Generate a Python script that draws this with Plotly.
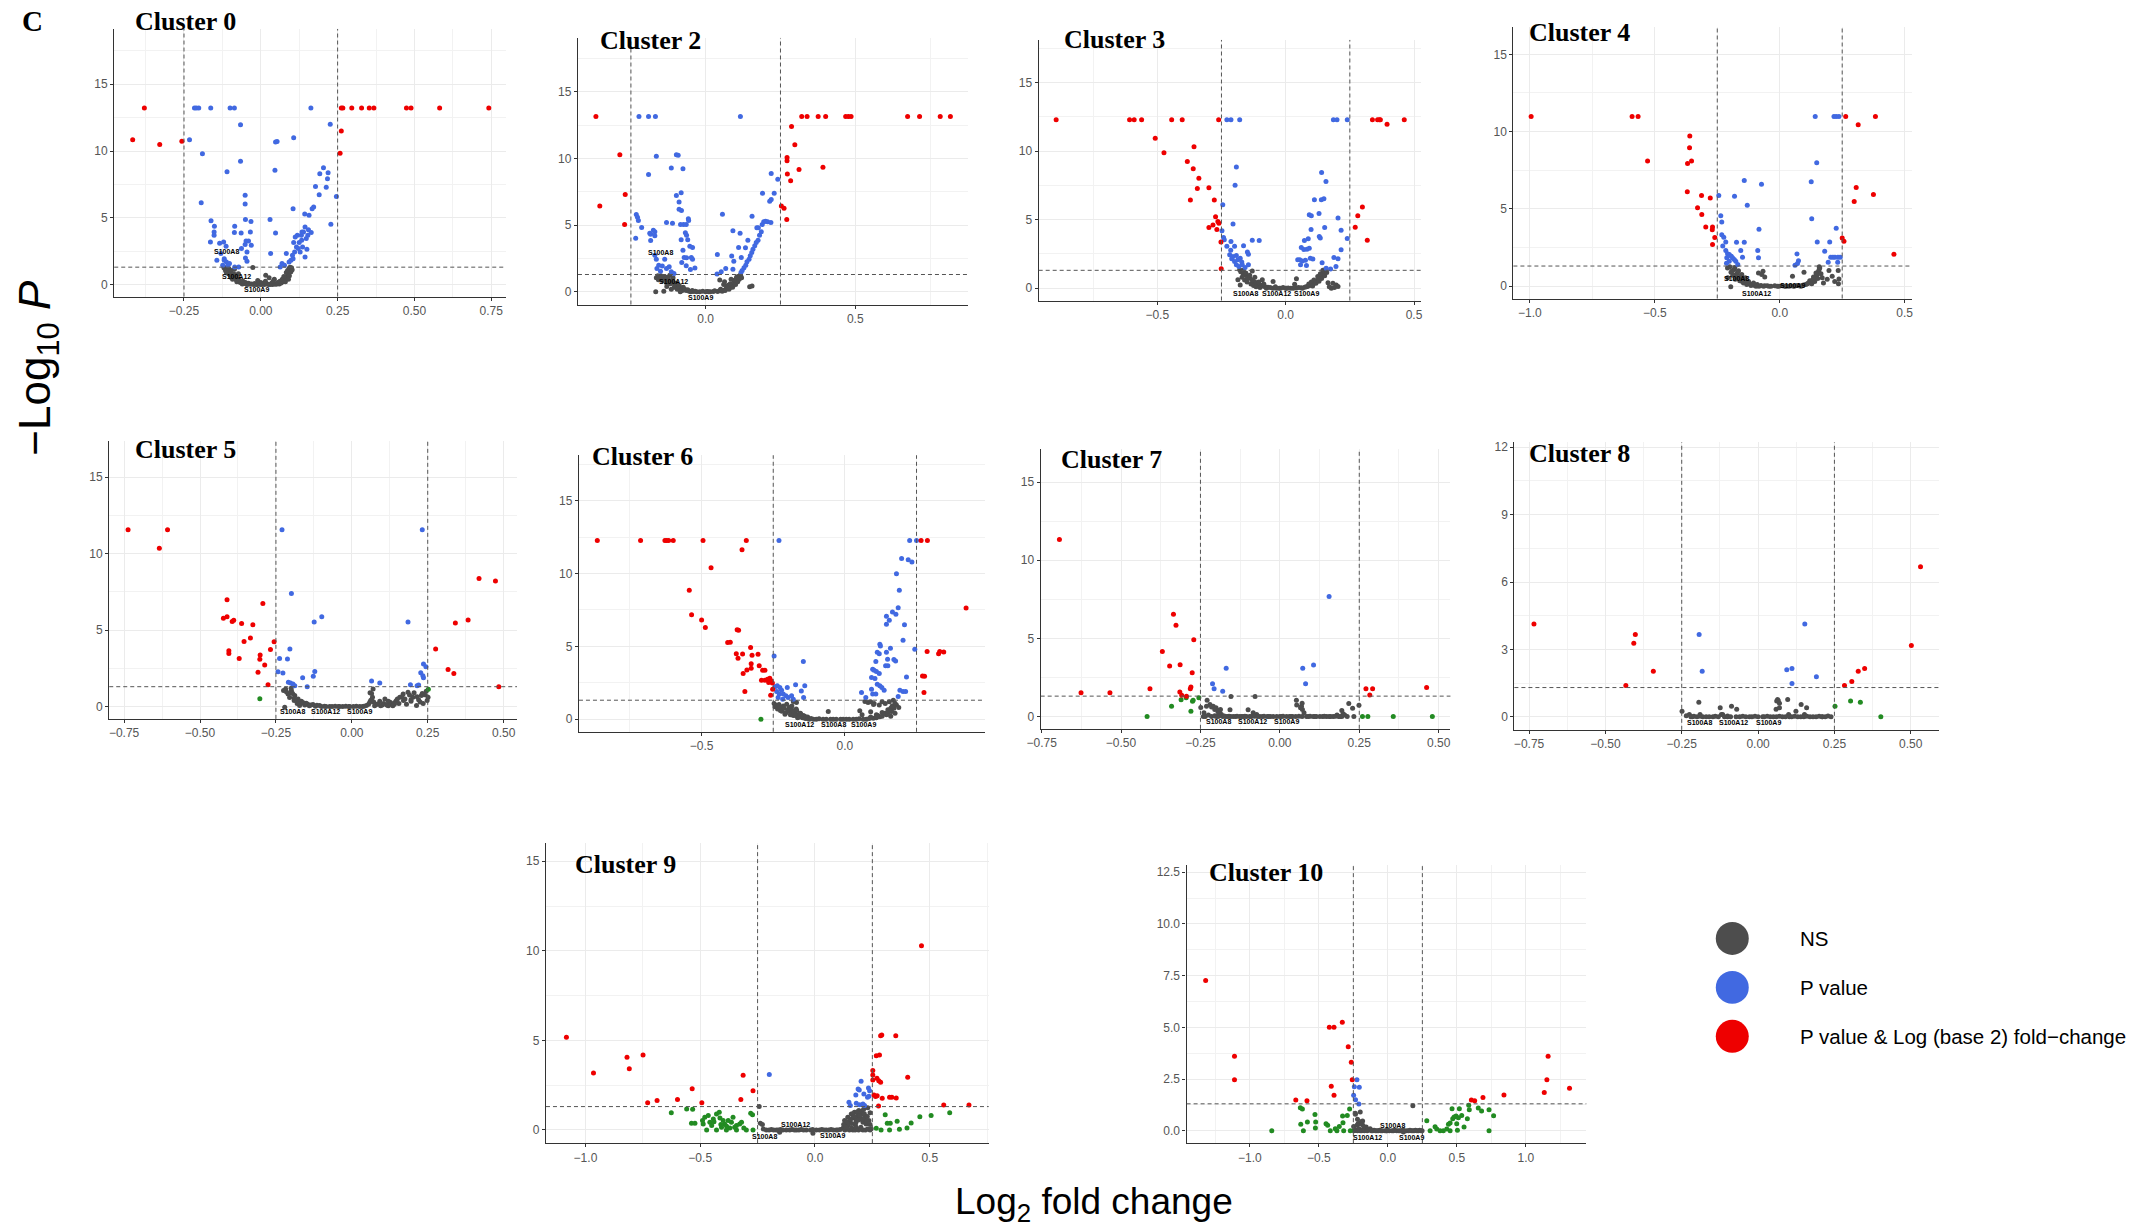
import plotly.graph_objects as go

W, H = 2144, 1226

# ------------------------------------------------------------------ data
# each list holds (log2 fold change, -log10 P) pairs
C0_NS = [(-0.113,1.2),(-0.102,0.95),(-0.094,0.70),(-0.085,0.45),(-0.074,0.25),(-0.063,0.12),(-0.046,0.05),(-0.023,0.0),(0.0,0.0),(0.038,0.0),(0.06,0.05),(0.072,0.2),(0.081,0.45),(0.088,0.75),(0.094,1.0),(0.1,1.25),(-0.026,1.27),(0.016,0.7),(0.027,0.5),(0.044,0.4),(-0.108,1.1),(-0.098,0.85),(-0.09,0.6),(-0.08,0.35),(-0.068,0.18),(-0.105,0.8),(-0.095,0.5),(0.085,0.55),(0.091,0.85),(0.097,1.15),(0.078,0.3),(0.066,0.12),(0.05,0.02),(-0.035,0.02),(-0.012,0.01),(0.012,0.0),(0.025,0.01),(-0.055,0.08),(-0.118,1.28),(-0.11,1.0),(0.092,1.2),(0.083,0.9),
         (-0.12,1.25),(-0.115,1.05),(-0.112,0.9),(-0.104,1.2),(-0.1,0.7),(-0.097,1.05),(-0.092,0.4),(-0.088,0.8),(-0.083,0.6),(-0.078,0.2),(-0.076,0.45),(-0.07,0.35),(-0.065,0.2),(-0.06,0.05),(-0.058,0.25),(-0.05,0.15),(-0.045,0.0),(-0.04,0.1),(-0.03,0.05),(-0.02,0.08),(-0.015,0.0),(-0.005,0.05),(0.005,0.02),(0.02,0.06),(0.03,0.0),(0.035,0.1),(0.045,0.05),(0.055,0.15),(0.062,0.25),(0.07,0.4),(0.075,0.6),(0.08,0.2),(0.087,1.05),(0.093,0.65),(0.095,1.3),(0.098,0.95),(0.102,1.1),(0.09,0.4),(-0.073,0.8),(-0.086,1.15),(0.015,0.25),(0.0,0.15),(-0.01,0.3),(0.04,0.25)]
C0_FC = []
C0_P = [(-0.216,13.23),(-0.210,13.23),(-0.202,13.23),(-0.163,13.23),(-0.100,13.23),(-0.086,13.23),(0.163,13.23),(-0.232,10.84),(-0.066,11.96),(-0.190,9.79),(-0.110,8.45),(-0.066,9.24),(-0.194,6.13),(-0.051,6.68),(-0.051,6.03),(0.046,8.55),(0.048,10.67),(0.053,10.72),(0.107,10.99),(0.226,12.01),(0.204,8.75),(0.192,8.30),(0.219,8.37),(0.217,7.92),(0.178,7.35),(0.213,7.28),(0.246,6.60),(0.190,6.73),(0.228,4.51),(0.172,5.81),(0.167,5.68),(0.157,5.18),(0.143,5.28),(0.105,5.68),(0.030,4.88),(0.048,3.86),(0.032,2.32),(-0.162,4.78),(-0.151,4.36),(-0.152,3.94),(-0.152,3.69),(-0.164,3.19),(-0.134,3.09),(-0.121,3.19),(-0.113,2.87),(-0.085,4.36),(-0.086,3.89),(-0.064,3.86),(-0.050,4.88),(-0.032,4.73),(-0.034,3.94),(-0.048,3.26),(-0.040,3.26),(-0.051,2.99),(-0.031,2.94),(-0.063,2.69),(-0.045,2.44),(-0.050,1.99),(-0.045,1.74),(-0.143,1.82),(-0.119,1.94),(-0.107,1.45),(-0.072,1.32),(-0.085,1.32),(0.069,1.57),(0.083,2.32),(0.098,1.82),(0.105,1.94),(0.110,2.44),(0.116,2.82),(0.122,2.69),(0.125,3.14),(0.107,3.14),(0.128,2.44),(0.136,2.82),(0.132,3.69),(0.139,3.94),(0.144,4.31),(0.148,3.44),(0.133,3.31),(0.150,2.64),(0.144,2.07),(0.153,3.69),(0.164,3.89),(0.155,4.11),(0.134,3.94),(0.119,3.69),(0.112,3.56),(0.103,2.19),(0.092,1.69),(0.077,1.45),(0.063,1.32),(-0.130,2.32),(-0.119,1.82),(-0.112,1.69),(-0.102,1.57),(-0.124,1.45)]
C0_PFC = [(-0.379,13.23),(-0.417,10.84),(-0.329,10.49),(-0.257,10.74),(0.262,13.23),(0.267,13.23),(0.296,13.23),(0.328,13.23),(0.353,13.23),(0.368,13.23),(0.474,13.23),(0.489,13.23),(0.582,13.23),(0.742,13.23),(0.262,11.49),(0.258,9.84)]
C0_LAB = [("S100A8",-0.111,2.5),("S100A12",-0.079,0.62),("S100A9",-0.015,-0.35)]

C2_NS = [(-0.167,0.0),(-0.14,0.05),(-0.165,1.05),(-0.154,1.13),(-0.143,1.0),(-0.126,0.88),(-0.115,0.75),(-0.104,0.55),(-0.092,0.38),(-0.081,0.25),(-0.065,0.1),(-0.042,0.03),(-0.02,0.0),(0.0,0.0),(0.025,0.03),(0.047,0.1),(0.069,0.25),(0.086,0.45),(0.097,0.63),(0.105,0.8),(0.111,1.0),(0.117,1.2),(0.147,0.38),(0.155,0.43),(0.047,0.88),(0.063,0.75),(-0.12,1.25),(-0.109,1.05),(-0.135,0.95),(-0.12,0.7),(-0.1,0.4),(-0.085,0.15),(0.08,0.3),(0.092,0.55),(0.1,0.9),(0.108,1.15),(0.06,0.12),(-0.055,0.05),(0.01,0.0),(-0.15,1.2),(-0.13,1.1),(0.075,0.5),
         (-0.16,1.2),(-0.158,0.9),(-0.15,1.05),(-0.145,0.85),(-0.14,1.15),(-0.132,0.7),(-0.125,1.0),(-0.118,0.6),(-0.11,0.85),(-0.105,0.35),(-0.098,0.65),(-0.095,0.2),(-0.088,0.45),(-0.078,0.1),(-0.075,0.35),(-0.07,0.2),(-0.06,0.15),(-0.05,0.0),(-0.045,0.1),(-0.035,0.05),(-0.03,0.0),(-0.01,0.05),(0.005,0.02),(0.015,0.0),(0.03,0.08),(0.04,0.02),(0.05,0.2),(0.055,0.05),(0.065,0.1),(0.07,0.4),(0.078,0.2),(0.082,0.6),(0.09,0.35),(0.094,0.85),(0.1,0.55),(0.103,1.1),(0.107,0.75),(0.112,0.95),(0.115,1.25),(0.12,1.05),(0.085,0.95),(0.06,0.55),(-0.085,0.0),(-0.115,0.2),(-0.13,0.4)]
C2_FC = []
C2_P = [(-0.223,13.15),(-0.191,13.15),(-0.168,13.15),(0.116,13.15),(-0.165,10.18),(-0.098,10.28),(-0.092,10.25),(-0.191,8.8),(-0.115,9.3),(-0.076,9.23),(-0.082,7.43),(-0.098,7.23),(-0.089,6.75),(-0.089,6.2),(-0.081,6.1),(-0.232,5.8),(-0.228,5.6),(-0.225,5.35),(-0.214,4.83),(-0.234,4.03),(-0.187,4.4),(-0.184,4.33),(-0.175,4.63),(-0.170,4.5),(-0.170,4.2),(-0.184,3.85),(-0.131,5.2),(-0.111,5.15),(-0.084,5.05),(-0.074,5.05),(-0.065,5.05),(-0.058,5.48),(-0.057,5.35),(-0.068,4.43),(-0.064,4.25),(-0.060,3.9),(-0.082,3.9),(-0.053,3.43),(-0.044,3.33),(-0.076,3.13),(-0.072,2.58),(-0.064,2.55),(-0.048,2.58),(-0.044,2.45),(-0.080,2.2),(-0.065,1.95),(-0.051,1.68),(-0.036,1.78),(-0.170,2.75),(-0.165,2.45),(-0.137,2.45),(-0.157,2.0),(-0.145,1.93),(-0.131,1.75),(-0.122,1.88),(-0.115,1.5),(-0.106,1.38),(-0.163,1.75),(-0.151,1.55),(0.056,5.83),(0.091,4.58),(0.115,4.4),(0.141,3.88),(0.155,5.68),(0.110,3.33),(0.133,3.3),(0.087,2.68),(0.119,2.58),(0.094,2.3),(0.039,2.8),(0.067,1.75),(0.091,1.7),(0.052,1.5),(0.038,1.33),(0.190,7.4),(0.229,7.4),(0.214,6.8),(0.219,6.93),(0.219,8.88),(0.241,8.45),(0.171,4.8),(0.176,4.8),(0.189,5.05),(0.194,5.25),(0.200,5.3),(0.207,5.25),(0.218,5.2),(0.186,4.5),(0.180,4.25),(0.175,3.88),(0.169,3.7),(0.164,3.45),(0.158,3.2),(0.154,2.95),(0.149,2.7),(0.145,2.45),(0.138,2.25),(0.134,2.0),(0.128,1.8),(0.122,1.6),(0.118,1.45)]
C2_PFC = [(-0.367,13.15),(-0.354,6.45),(-0.287,10.28),(-0.269,7.3),(-0.271,5.05),(0.321,13.15),(0.339,13.15),(0.376,13.15),(0.401,13.15),(0.468,13.15),(0.477,13.15),(0.486,13.15),(0.675,13.15),(0.715,13.15),(0.784,13.15),(0.818,13.15),(0.287,12.4),(0.298,11.03),(0.272,10.08),(0.272,9.83),(0.312,9.18),(0.392,9.35),(0.273,8.85),(0.284,8.33),(0.253,6.45),(0.262,6.28),(0.271,5.43)]
C2_LAB = [("S100A8",-0.151,2.95),("S100A12",-0.109,0.8),("S100A9",-0.018,-0.4)]

C3_NS = [(-0.179,1.34),(-0.166,1.09),(-0.153,0.92),(-0.140,0.73),(-0.127,0.53),(-0.112,0.34),(-0.095,0.19),(-0.069,0.07),(-0.036,0.0),(0.003,0.0),(0.042,0.02),(0.074,0.07),(0.094,0.19),(0.109,0.34),(0.122,0.53),(0.132,0.73),(0.142,0.97),(0.149,1.22),(0.156,1.39),(-0.186,0.61),(-0.177,0.24),(-0.091,0.61),(-0.049,0.49),(0.035,0.29),(0.042,0.68),(0.178,0.0),(0.197,0.24),(0.204,0.12),(0.184,0.36),(-0.13,1.26),(-0.16,1.0),(-0.145,0.8),(-0.12,0.45),(-0.1,0.25),(0.1,0.25),(0.115,0.45),(0.127,0.62),(0.137,0.85),(0.145,1.1),(-0.08,0.1),(0.085,0.12),(-0.02,0.0),(0.02,0.0),(0.06,0.03),
         (-0.175,1.2),(-0.17,0.8),(-0.165,1.3),(-0.16,0.6),(-0.155,1.1),(-0.15,0.45),(-0.148,0.75),(-0.14,0.95),(-0.135,0.3),(-0.13,0.6),(-0.125,0.2),(-0.12,0.8),(-0.115,0.1),(-0.105,0.45),(-0.1,0.05),(-0.09,0.15),(-0.085,0.3),(-0.075,0.0),(-0.06,0.05),(-0.05,0.0),(-0.04,0.1),(-0.025,0.0),(-0.01,0.05),(0.0,0.0),(0.01,0.02),(0.03,0.0),(0.05,0.05),(0.065,0.0),(0.08,0.1),(0.09,0.3),(0.1,0.45),(0.105,0.15),(0.11,0.6),(0.118,0.35),(0.125,0.85),(0.13,0.5),(0.135,1.05),(0.14,0.7),(0.145,1.3),(0.152,0.9),(0.16,1.15),(0.165,0.4),(0.17,0.1),(0.19,0.05)]
C3_FC = []
C3_P = [(-0.229,12.28),(-0.213,12.28),(-0.179,12.28),(0.186,12.28),(0.2,12.28),(0.240,12.28),(-0.192,8.83),(-0.197,7.51),(-0.245,6.08),(-0.205,4.67),(-0.248,4.18),(-0.242,3.7),(-0.239,3.53),(-0.213,3.4),(-0.229,3.06),(-0.199,3.06),(-0.164,3.09),(-0.130,3.5),(-0.103,3.48),(-0.149,2.63),(-0.145,2.48),(-0.214,2.77),(-0.218,2.43),(-0.205,2.31),(-0.192,2.38),(-0.210,2.14),(-0.199,1.95),(-0.186,2.07),(-0.177,2.19),(-0.171,1.9),(-0.192,1.7),(-0.182,1.58),(-0.169,1.7),(-0.158,1.51),(-0.145,1.7),(0.140,8.44),(0.157,7.78),(0.112,6.44),(0.139,6.44),(0.149,6.52),(0.092,5.35),(0.1,5.28),(0.130,5.45),(0.099,4.28),(0.152,4.43),(0.131,3.77),(0.135,3.65),(0.073,3.48),(0.088,3.6),(0.204,5.11),(0.216,4.23),(0.240,3.62),(0.216,2.8),(0.061,2.97),(0.071,2.82),(0.083,2.84),(0.092,2.92),(0.096,2.19),(0.106,2.12),(0.047,2.07),(0.055,2.07),(0.065,1.99),(0.077,2.04),(0.058,1.7),(0.081,1.65),(0.142,1.85),(0.158,1.46),(0.175,1.39),(0.188,2.24),(0.204,2.14),(0.196,1.58)]
C3_PFC = [(-0.894,12.28),(-0.608,12.28),(-0.590,12.28),(-0.561,12.28),(-0.444,12.28),(-0.403,12.28),(-0.261,12.28),(0.338,12.28),(0.358,12.28),(0.365,12.28),(0.369,12.28),(0.462,12.28),(0.395,11.96),(-0.508,10.94),(-0.474,9.87),(-0.357,10.31),(-0.383,9.24),(-0.360,8.7),(-0.338,8.02),(-0.344,7.27),(-0.299,7.32),(-0.371,6.42),(-0.278,6.42),(-0.273,5.2),(-0.264,4.86),(-0.260,4.74),(-0.283,4.6),(-0.299,4.43),(-0.268,4.28),(-0.252,3.36),(-0.251,1.41),(0.299,5.91),(0.281,5.28),(0.271,4.45),(0.318,3.5)]
C3_LAB = [("S100A8",-0.158,-0.41),("S100A12",-0.036,-0.41),("S100A9",0.083,-0.41)]

C4_NS = [(-0.209,1.18),(-0.182,1.07),(-0.169,0.86),(-0.156,0.64),(-0.142,0.43),(-0.129,0.26),(-0.109,0.11),(-0.083,0.0),(-0.043,0.0),(-0.003,0.0),(0.037,0.0),(0.077,0.02),(0.104,0.11),(0.124,0.28),(0.137,0.47),(0.148,0.69),(0.154,0.92),(0.160,1.18),(-0.196,-0.04),(-0.208,0.54),(-0.067,0.97),(-0.072,0.75),(0.097,0.9),(0.051,0.64),(0.170,0.54),(0.197,1.01),(0.234,1.01),(0.237,0.47),(0.210,0.64),(-0.19,1.0),(-0.175,0.75),(-0.16,0.5),(-0.15,0.3),(-0.12,0.15),(-0.1,0.05),(0.115,0.2),(0.13,0.38),(0.142,0.58),(0.15,0.8),(0.157,1.05),(-0.06,0.02),(0.02,0.0),(0.06,0.01),(0.09,0.05),
         (-0.2,1.25),(-0.195,0.9),(-0.188,0.7),(-0.18,1.2),(-0.178,0.45),(-0.172,0.6),(-0.165,1.0),(-0.16,0.35),(-0.152,0.75),(-0.145,0.2),(-0.138,0.55),(-0.132,0.1),(-0.125,0.3),(-0.115,0.05),(-0.105,0.2),(-0.095,0.0),(-0.09,0.1),(-0.075,0.05),(-0.065,0.0),(-0.05,0.03),(-0.035,0.0),(-0.02,0.02),(-0.01,0.0),(0.01,0.02),(0.025,0.0),(0.045,0.02),(0.055,0.0),(0.07,0.05),(0.085,0.0),(0.095,0.08),(0.11,0.15),(0.12,0.35),(0.128,0.15),(0.135,0.6),(0.14,0.3),(0.145,0.85),(0.152,0.5),(0.158,1.25),(0.165,0.8),(0.175,0.2),(0.19,0.45),(0.22,0.3),(0.235,0.15),(-0.085,0.85),(-0.06,0.6)]
C4_FC = []
C4_P = [(0.142,10.98),(0.217,10.98),(0.226,10.98),(0.237,10.98),(0.148,7.99),(-0.142,6.83),(-0.073,6.6),(0.126,6.75),(-0.244,5.87),(-0.181,5.82),(-0.130,5.24),(0.128,4.36),(-0.236,4.56),(-0.232,4.15),(-0.083,3.68),(0.226,3.74),(-0.232,3.33),(-0.224,3.16),(-0.216,2.86),(-0.173,2.84),(-0.142,2.84),(0.150,2.86),(0.200,2.86),(-0.228,2.6),(-0.156,2.3),(-0.088,2.3),(0.180,2.26),(0.069,2.08),(-0.216,2.3),(-0.209,2.1),(-0.202,2.04),(-0.194,1.93),(-0.212,1.83),(-0.189,1.83),(-0.182,1.72),(-0.176,1.61),(-0.202,1.61),(-0.213,1.48),(-0.149,1.87),(-0.085,1.83),(-0.168,1.4),(0.075,1.65),(0.071,1.46),(0.061,1.35),(0.204,1.87),(0.213,1.87),(0.221,1.87),(0.233,1.87),(0.242,1.87),(0.194,1.55),(0.232,1.55)]
C4_PFC = [(-0.995,10.98),(-0.591,10.98),(-0.567,10.98),(-0.529,8.1),(-0.360,9.71),(-0.361,8.96),(-0.353,8.1),(-0.369,7.93),(-0.370,6.1),(-0.313,5.87),(-0.278,5.7),(-0.329,5.07),(-0.312,4.64),(-0.296,3.83),(-0.269,3.83),(-0.270,3.65),(-0.260,3.14),(-0.269,2.69),(0.264,10.98),(0.314,10.44),(0.383,10.98),(0.306,6.38),(0.375,5.93),(0.298,5.48),(0.250,3.12),(0.257,2.9),(0.457,2.06)]
C4_LAB = [("S100A8",-0.173,0.49),("S100A12",-0.093,-0.49),("S100A9",0.051,0.04)]

C5_NS = [(-0.218,1.15),(-0.210,0.83),(-0.199,1.04),(-0.188,0.72),(-0.177,0.5),(-0.166,0.35),(-0.150,0.22),(-0.128,0.13),(-0.106,0.07),(-0.073,0.0),(-0.040,0.0),(-0.007,0.0),(0.026,0.0),(0.048,0.07),(0.059,0.28),(0.068,0.61),(0.070,1.15),(0.092,0.35),(0.109,0.5),(0.126,0.28),(0.146,0.39),(0.158,0.61),(0.169,0.83),(0.185,0.93),(0.201,0.61),(0.213,0.07),(0.229,0.72),(0.240,0.78),(0.251,0.61),(-0.172,0.07),(-0.221,-0.04),(-0.2,0.9),(-0.19,0.4),(-0.18,0.2),(0.06,0.9),(0.065,0.45),(0.08,0.15),(0.1,0.1),(0.12,0.05),(0.14,0.15),(0.175,0.5),(0.195,0.35),(0.22,0.45),(0.245,1.0),(0.235,0.2),
         (-0.215,0.95),(-0.205,0.6),(-0.195,0.85),(-0.19,0.55),(-0.182,0.4),(-0.175,0.3),(-0.168,0.2),(-0.16,0.25),(-0.155,0.1),(-0.145,0.15),(-0.14,0.05),(-0.135,0.1),(-0.12,0.02),(-0.115,0.08),(-0.1,0.0),(-0.09,0.03),(-0.085,0.0),(-0.065,0.0),(-0.055,0.02),(-0.045,0.0),(-0.03,0.0),(-0.02,0.02),(-0.01,0.0),(0.005,0.0),(0.015,0.02),(0.035,0.0),(0.04,0.03),(0.055,0.15),(0.062,0.4),(0.065,0.85),(0.072,0.3),(0.075,0.05),(0.085,0.15),(0.095,0.05),(0.105,0.2),(0.115,0.1),(0.12,0.35),(0.13,0.15),(0.135,0.05),(0.14,0.25),(0.15,0.5),(0.155,0.2),(0.165,0.65),(0.17,0.4),(0.18,0.15),(0.19,0.75),(0.195,0.45),(0.205,0.9),(0.215,0.65),(0.225,0.3),(0.232,0.85),(0.248,0.4),(-0.225,1.05),(-0.2,1.2)]
C5_FC = [(-0.303,0.52),(0.252,1.13)]
C5_P = [(-0.230,11.57),(0.232,11.57),(-0.199,7.39),(-0.099,5.87),(-0.124,5.54),(0.185,5.54),(-0.204,3.76),(-0.238,3.15),(-0.212,3.11),(-0.243,2.28),(-0.227,2.2),(-0.122,2.3),(-0.127,1.98),(-0.162,1.89),(-0.147,1.3),(0.065,1.67),(0.092,1.54),(0.236,2.78),(0.244,2.61),(0.227,2.22),(0.234,2.02),(0.236,1.89),(0.193,1.43),(0.215,1.37),(0.220,1.41),(-0.209,1.59),(-0.202,1.54),(-0.194,1.48),(-0.188,1.37)]
C5_PFC = [(-0.737,11.57),(-0.607,11.57),(-0.634,10.35),(-0.411,6.98),(-0.293,6.74),(-0.423,5.78),(-0.411,5.87),(-0.394,5.57),(-0.389,5.65),(-0.363,5.43),(-0.326,5.35),(-0.334,4.48),(-0.355,4.26),(-0.256,4.24),(-0.268,3.74),(-0.405,3.65),(-0.405,3.48),(-0.371,3.15),(-0.302,3.37),(-0.303,3.09),(-0.287,2.72),(-0.309,2.24),(-0.276,1.43),(0.419,8.37),(0.473,8.22),(0.341,5.46),(0.383,5.67),(0.276,3.76),(0.317,2.43),(0.336,2.17),(0.484,1.3)]
C5_LAB = [("S100A8",-0.196,-0.33),("S100A12",-0.086,-0.33),("S100A9",0.024,-0.33)]

C6_NS = [(-0.247,1.07),(-0.244,0.85),(-0.209,0.34),(-0.203,1.03),(-0.194,0.8),(-0.185,0.62),(-0.174,0.46),(-0.163,0.3),(-0.151,0.16),(-0.134,0.07),(-0.110,0.0),(-0.076,0.0),(-0.041,0.0),(-0.006,0.0),(0.029,0.0),(0.064,0.0),(0.099,0.07),(0.122,0.16),(0.145,0.3),(0.163,0.53),(0.171,0.75),(0.180,0.98),(0.188,0.8),(0.169,1.3),(0.070,1.21),(0.081,1.14),(0.102,1.07),(0.120,0.98),(0.141,1.07),(-0.058,0.53),(0.052,0.57),(-0.180,1.21),(-0.169,1.14),(-0.215,0.9),(-0.225,0.6),(-0.19,0.5),(-0.18,0.25),(-0.165,0.1),(-0.155,0.35),(-0.17,0.7),(0.11,0.3),(0.13,0.45),(0.15,0.65),(0.16,0.2),(0.175,0.4),(0.09,0.5),(0.06,0.3),(-0.14,0.2),
         (-0.24,0.95),(-0.235,0.7),(-0.23,1.0),(-0.225,0.8),(-0.22,0.55),(-0.212,0.75),(-0.205,0.45),(-0.198,0.65),(-0.19,0.3),(-0.185,0.9),(-0.178,0.5),(-0.172,0.25),(-0.168,0.6),(-0.16,0.15),(-0.155,0.4),(-0.148,0.1),(-0.145,0.25),(-0.138,0.05),(-0.13,0.15),(-0.125,0.0),(-0.118,0.05),(-0.1,0.0),(-0.09,0.02),(-0.065,0.0),(-0.05,0.0),(-0.03,0.0),(-0.015,0.0),(0.005,0.0),(0.015,0.0),(0.04,0.0),(0.05,0.02),(0.075,0.0),(0.085,0.05),(0.09,0.15),(0.11,0.1),(0.115,0.25),(0.13,0.2),(0.14,0.4),(0.15,0.35),(0.155,0.55),(0.16,0.75),(0.165,0.9),(0.175,1.1),(0.155,1.2),(0.1,1.0),(0.09,1.2),(0.13,1.2)]
C6_FC = [(-0.293,0.0)]
C6_P = [(-0.230,12.28),(0.226,12.28),(0.250,12.28),(0.198,11.04),(0.221,10.95),(0.234,10.79),(0.180,9.99),(0.190,8.85),(0.186,7.66),(0.166,7.36),(0.178,7.2),(0.145,7.07),(0.155,6.79),(0.145,6.52),(0.208,6.49),(0.203,5.42),(0.244,4.8),(0.122,5.15),(0.124,5.03),(0.159,4.87),(0.113,4.6),(0.12,4.5),(0.145,4.6),(0.149,4.12),(0.171,4.09),(0.177,4.0),(0.108,3.96),(0.142,3.66),(0.150,3.66),(0.097,3.43),(0.102,3.36),(0.110,3.27),(0.12,3.13),(0.093,2.86),(0.105,2.79),(0.215,2.9),(0.113,2.4),(0.122,2.29),(0.129,2.17),(0.093,2.06),(0.137,1.99),(0.192,1.99),(0.203,1.9),(0.212,1.9),(0.186,1.56),(0.058,1.83),(0.097,1.72),(0.108,1.72),(0.073,1.49),(-0.247,4.34),(-0.145,3.96),(-0.172,2.36),(-0.140,2.29),(-0.152,1.94),(-0.144,1.49),(-0.244,2.22),(-0.236,2.29),(-0.227,2.17),(-0.221,1.99),(-0.201,2.17),(-0.238,1.9),(-0.229,1.72),(-0.215,1.72),(-0.206,1.6),(-0.233,1.49),(-0.198,1.49),(-0.186,1.6),(-0.180,1.37),(-0.217,1.37)]
C6_PFC = [(-0.864,12.28),(-0.713,12.28),(-0.628,12.28),(-0.622,12.28),(-0.615,12.28),(-0.599,12.28),(-0.495,12.28),(-0.344,12.28),(0.266,12.28),(0.288,12.28),(-0.359,11.64),(-0.467,10.4),(-0.543,8.85),(-0.535,7.18),(-0.5,6.81),(-0.487,6.29),(-0.376,6.15),(-0.371,6.11),(-0.409,5.26),(-0.4,5.28),(-0.329,4.92),(-0.379,4.5),(-0.357,4.48),(-0.324,4.39),(-0.303,4.46),(-0.373,4.18),(-0.299,3.66),(-0.287,3.36),(-0.279,3.36),(-0.342,3.38),(-0.355,3.13),(-0.327,3.8),(-0.327,3.5),(-0.291,2.68),(-0.279,2.68),(-0.270,2.74),(-0.262,2.81),(-0.258,2.63),(-0.253,2.49),(-0.266,2.52),(-0.349,1.9),(-0.259,1.65),(-0.252,2.06),(0.423,7.64),(0.287,4.64),(0.327,4.5),(0.331,4.64),(0.345,4.62),(0.271,2.97),(0.278,2.95),(0.276,1.83)]
C6_LAB = [("S100A12",-0.157,-0.37),("S100A8",-0.041,-0.37),("S100A9",0.066,-0.37)]

C7_NS = [(-0.249,0.58),(-0.241,0.0),(-0.239,0.24),(-0.231,0.66),(-0.229,1.03),(-0.220,0.77),(-0.210,0.66),(-0.201,0.56),(-0.194,0.38),(-0.189,0.24),(-0.187,0.45),(-0.184,0.13),(-0.157,0.43),(-0.154,1.28),(-0.147,0.0),(-0.126,0.0),(-0.100,0.43),(-0.084,0.24),(-0.078,1.28),(-0.073,0.13),(-0.063,0.0),(-0.021,0.0),(0.021,0.0),(0.052,1.03),(0.053,0.73),(0.068,0.66),(0.071,0.45),(0.076,0.24),(0.084,0.0),(0.126,0.0),(0.168,0.0),(0.180,0.09),(0.195,0.38),(0.199,0.17),(0.204,0.09),(0.217,0.83),(0.229,0.53),(0.233,0.0),(0.249,0.71),(-0.2,0.0),(-0.17,0.0),(-0.105,0.0),(-0.04,0.0),(0.0,0.0),(0.04,0.0),(0.105,0.0),(0.147,0.0),(0.19,0.0),(0.212,0.0),
         (-0.235,0.0),(-0.225,0.1),(-0.215,0.0),(-0.205,0.05),(-0.195,0.0),(-0.19,0.05),(-0.18,0.0),(-0.175,0.03),(-0.165,0.0),(-0.16,0.02),(-0.155,0.0),(-0.14,0.0),(-0.135,0.02),(-0.12,0.0),(-0.115,0.0),(-0.11,0.02),(-0.095,0.0),(-0.09,0.0),(-0.08,0.02),(-0.07,0.0),(-0.055,0.0),(-0.05,0.02),(-0.035,0.0),(-0.03,0.0),(-0.01,0.0),(0.005,0.0),(0.01,0.02),(0.03,0.0),(0.035,0.0),(0.05,0.0),(0.06,0.02),(0.07,0.0),(0.09,0.0),(0.095,0.02),(0.11,0.0),(0.115,0.0),(0.135,0.0),(0.14,0.02),(0.155,0.0),(0.16,0.0),(0.175,0.02),(0.185,0.0),(0.195,0.0),(-0.215,0.6),(-0.205,0.45),(-0.195,0.3),(0.065,0.55),(0.07,0.85)]
C7_FC = [(-0.418,0.0),(-0.341,0.66),(-0.311,1.07),(-0.295,1.2),(-0.275,0.98),(-0.273,1.03),(-0.280,0.34),(-0.255,1.2),(0.260,0.0),(0.277,0.0),(0.357,0.0),(0.480,0.0)]
C7_P = [(0.155,7.67),(-0.169,3.08),(0.072,3.08),(0.106,3.29),(-0.212,2.09),(-0.207,1.77),(-0.180,1.62),(0.081,2.09)]
C7_PFC = [(-0.694,11.32),(-0.626,1.52),(-0.535,1.52),(-0.409,1.77),(-0.370,4.15),(-0.347,3.23),(-0.335,6.54),(-0.327,5.83),(-0.314,3.31),(-0.315,1.56),(-0.309,1.35),(-0.294,1.3),(-0.271,4.91),(-0.276,2.8),(-0.280,1.88),(-0.282,1.77),(0.271,1.77),(0.292,1.77),(0.283,1.37),(0.462,1.86)]
C7_LAB = [("S100A8",-0.192,-0.34),("S100A12",-0.086,-0.34),("S100A9",0.021,-0.34)]

C8_NS = [(-0.249,0.25),(-0.225,0.1),(-0.194,0.65),(-0.190,0.1),(-0.181,0.0),(-0.148,0.0),(-0.124,0.4),(-0.116,0.1),(-0.087,0.47),(-0.070,0.33),(-0.072,0.0),(-0.028,0.0),(0.015,0.0),(0.059,0.33),(0.061,0.7),(0.064,0.77),(0.070,0.4),(0.097,0.77),(0.100,0.1),(0.103,0.0),(0.124,0.25),(0.141,0.55),(0.152,0.1),(0.159,0.4),(0.190,0.0),(0.229,0.04),(0.239,0.0),(-0.215,0.0),(-0.1,0.0),(0.05,0.0),(0.08,0.0),(0.14,0.0),(0.21,0.0),
         (-0.235,0.05),(-0.22,0.0),(-0.21,0.02),(-0.2,0.0),(-0.19,0.02),(-0.17,0.0),(-0.16,0.0),(-0.14,0.02),(-0.13,0.0),(-0.11,0.0),(-0.1,0.03),(-0.09,0.0),(-0.06,0.0),(-0.05,0.02),(-0.04,0.0),(-0.02,0.0),(-0.01,0.02),(0.0,0.0),(0.02,0.0),(0.03,0.02),(0.04,0.0),(0.06,0.0),(0.07,0.02),(0.09,0.0),(0.11,0.0),(0.12,0.02),(0.13,0.0),(0.15,0.0),(0.16,0.02),(0.17,0.0),(0.18,0.0),(0.2,0.02),(0.21,0.0),(0.22,0.0),(0.066,0.72),(0.07,0.6),(-0.12,0.1)]
C8_FC = [(0.252,0.47),(0.303,0.7),(0.335,0.65),(0.402,0.0)]
C8_P = [(-0.193,3.66),(-0.183,2.03),(0.153,4.13),(0.094,2.09),(0.111,2.15),(0.191,1.78),(0.111,1.48)]
C8_PFC = [(-0.734,4.13),(-0.402,3.66),(-0.407,3.27),(-0.343,2.03),(-0.433,1.39),(0.532,6.68),(0.502,3.17),(0.349,2.15),(0.328,2.03),(0.307,1.57),(0.283,1.39)]
C8_LAB = [("S100A8",-0.192,-0.25),("S100A12",-0.08,-0.25),("S100A9",0.034,-0.25)]

C9_NS = [(-0.243,1.3),(-0.238,0.37),(-0.229,0.3),(-0.212,0.0),(-0.168,0.0),(-0.125,0.0),(-0.081,0.0),(-0.038,0.0),(0.006,0.0),(0.049,0.0),(0.093,0.0),(0.122,0.09),(0.129,0.52),(0.136,0.33),(0.143,0.71),(0.151,0.43),(0.158,0.89),(0.165,0.67),(0.172,0.99),(0.180,0.52),(0.187,0.8),(0.191,1.08),(0.197,0.61),(0.201,0.89),(0.209,0.43),(0.216,0.71),(0.223,0.33),(0.230,1.23),(0.235,0.52),(0.245,0.06),(0.165,0.0),(0.209,0.0),(-0.009,-0.19),(-0.154,-0.13),(0.13,0.2),(0.145,0.25),(0.175,0.3),(0.2,0.15),(0.22,0.75),(0.24,0.95),(0.185,0.6),
         (-0.225,0.05),(-0.2,0.0),(-0.19,0.02),(-0.18,0.0),(-0.16,0.0),(-0.15,0.02),(-0.14,0.0),(-0.11,0.0),(-0.1,0.02),(-0.09,0.0),(-0.07,0.0),(-0.06,0.02),(-0.05,0.0),(-0.02,0.0),(-0.01,0.02),(0.02,0.0),(0.03,0.02),(0.04,0.0),(0.06,0.0),(0.07,0.02),(0.08,0.0),(0.1,0.0),(0.11,0.02),(0.13,0.0),(0.14,0.05),(0.15,0.0),(0.16,0.1),(0.175,0.0),(0.18,0.15),(0.19,0.0),(0.2,0.05),(0.22,0.0),(0.23,0.05),(0.24,0.0),(0.125,0.3),(0.135,0.15),(0.14,0.45),(0.155,0.6),(0.16,0.35),(0.165,0.9),(0.17,0.75),(0.178,0.4),(0.183,1.0),(0.19,0.55),(0.195,0.8),(0.205,1.05),(0.21,0.6),(0.215,0.9),(0.225,0.5),(0.228,0.75),(0.24,0.3),(0.212,1.15)]
C9_FC = [(-0.626,0.95),(-0.559,1.17),(-0.533,1.15),(-0.538,0.37),(-0.523,0.37),(-0.49,0.52),(-0.48,0.71),(-0.465,0.8),(-0.458,0.43),(-0.443,0.61),(-0.429,0.89),(-0.417,0.99),(-0.414,0.67),(-0.4,0.52),(-0.393,0.33),(-0.378,0.52),(-0.364,0.43),(-0.357,0.71),(-0.342,0.24),(-0.328,0.33),(-0.32,0.43),(-0.472,0.0),(-0.429,0.0),(-0.386,0.0),(-0.342,0.0),(-0.299,0.0),(-0.27,0.0),(-0.45,0.24),(-0.407,0.15),(-0.371,0.11),(-0.487,0.33),(-0.28,0.93),(-0.272,0.84),(0.306,0.84),(0.315,0.37),(0.328,0.37),(0.358,0.48),(0.401,0.11),(0.419,0.39),(0.457,0.74),(0.506,0.8),(0.587,0.95),(0.267,0.09),(0.288,0.0),(0.325,0.0),(0.368,0.04),(-0.44,0.45),(-0.41,0.3),(-0.385,0.2),(-0.35,0.15),(-0.31,0.1)]
C9_P = [(-0.199,3.09),(0.201,2.71),(0.188,2.29),(0.193,2.23),(0.233,2.34),(0.238,2.19),(0.178,1.95),(0.213,2.0),(0.229,1.82),(0.235,1.88),(0.148,1.54),(0.154,1.36),(0.180,1.49),(0.194,1.41),(0.209,1.45),(0.216,1.36)]
C9_PFC = [(-1.083,5.17),(-0.965,3.18),(-0.819,4.05),(-0.809,3.42),(-0.749,4.18),(-0.729,1.51),(-0.688,1.64),(-0.599,1.69),(-0.535,2.3),(-0.493,1.51),(-0.313,3.05),(-0.323,1.69),(-0.270,2.19),(0.464,10.28),(0.286,5.26),(0.291,5.3),(0.352,5.26),(0.267,4.14),(0.281,4.18),(0.252,3.31),(0.252,3.07),(0.270,2.88),(0.278,2.75),(0.286,2.66),(0.252,2.79),(0.404,2.94),(0.257,1.95),(0.264,1.86),(0.271,1.91),(0.293,1.77),(0.325,1.82),(0.335,1.82),(0.354,1.78),(0.277,1.34),(0.561,1.39),(0.671,1.39)]
C9_LAB = [("S100A12",-0.084,0.3),("S100A8",-0.222,-0.37),("S100A9",0.075,-0.33)]

C10_NS = [(-0.248,0.21),(-0.236,0.85),(-0.224,0.26),(-0.205,0.34),(-0.2,0.9),(-0.193,0.4),(-0.183,0.47),(-0.157,0.18),(-0.128,0.1),(-0.080,0.0),(-0.007,0.0),(0.065,0.0),(0.137,0.0),(0.210,0.0),(0.248,0.0),(0.181,1.21),(0.113,-0.06),(-0.2,0.0),(-0.04,0.0),(0.03,0.0),(0.1,0.0),(0.17,0.0),(-0.24,0.05),
          (-0.245,0.0),(-0.23,0.02),(-0.22,0.0),(-0.21,0.1),(-0.19,0.0),(-0.18,0.05),(-0.17,0.0),(-0.15,0.0),(-0.14,0.03),(-0.12,0.0),(-0.11,0.0),(-0.1,0.02),(-0.09,0.0),(-0.07,0.0),(-0.06,0.02),(-0.05,0.0),(-0.02,0.0),(-0.01,0.0),(0.0,0.02),(0.01,0.0),(0.04,0.0),(0.05,0.02),(0.08,0.0),(0.09,0.0),(0.11,0.02),(0.12,0.0),(0.15,0.0),(0.16,0.02),(0.18,0.0),(0.19,0.0),(0.2,0.02),(0.22,0.0),(0.23,0.02),(0.24,0.0),(-0.235,0.8),(-0.22,0.55),(-0.215,0.35),(-0.19,0.45),(-0.185,0.3),(-0.175,0.2)]
C10_FC = [(-0.841,0.0),(-0.634,1.11),(-0.619,1.05),(-0.631,0.31),(-0.612,0.0),(-0.583,0.42),(-0.528,0.79),(-0.523,0.42),(-0.525,0.13),(-0.448,0.34),(-0.436,0.26),(-0.417,0.0),(-0.381,0.1),(-0.352,0.21),(-0.328,0.71),(-0.325,0.39),(-0.294,0.74),(-0.277,1.05),(-0.369,0.0),(-0.320,0.0),(-0.272,0.0),(0.282,0.48),(0.342,0.19),(0.354,0.08),(0.306,0.0),(0.378,0.0),(0.427,0.08),(0.439,0.31),(0.451,0.37),(0.465,1.06),(0.470,0.58),(0.480,0.66),(0.494,0.71),(0.499,0.34),(0.504,0.02),(0.511,0.63),(0.518,1.06),(0.535,0.74),(0.552,0.18),(0.576,0.58),(0.586,1.23),(0.59,1.02),(0.655,1.1),(0.679,0.95),(0.733,1.02),(0.733,0.0),(0.766,0.73),(0.402,0.0),(0.451,0.0)]
C10_P = [(-0.224,2.47),(-0.243,2.13),(-0.207,2.1),(-0.248,1.71),(-0.234,1.5),(-0.210,1.29)]
C10_PFC = [(-1.320,7.27),(-1.111,3.6),(-1.111,2.47),(-0.424,5.0),(-0.39,5.0),(-0.330,5.24),(-0.287,4.06),(-0.265,3.31),(-0.258,2.47),(-0.410,2.15),(-0.390,1.71),(-0.667,1.48),(-0.586,1.45),(0.605,1.48),(0.629,1.45),(0.689,1.61),(0.841,1.73),(1.133,1.85),(1.152,2.47),(1.161,3.6),(1.316,2.06)]
C10_LAB = [("S100A8",0.036,0.24),("S100A12",-0.145,-0.32),("S100A9",0.173,-0.35)]

CLUSTER_NAMES = ["Cluster 0", "Cluster 2", "Cluster 3", "Cluster 4", "Cluster 5",
                 "Cluster 6", "Cluster 7", "Cluster 8", "Cluster 9", "Cluster 10"]
LEGEND_LABELS = ["NS", "P value", "P value & Log (base 2) fold\u2212change"]
FC_CUT = 0.25
P_CUT = 1.30103  # -log10(0.05)

# ------------------------------------------------------------------ styling / layout
COL_NS, COL_FC, COL_P, COL_PFC = "#4D4D4D", "#228B22", "#4169E1", "#EE0000"


def hx(px):
    """horizontal pixel -> paper fraction (small correction for the page's horizontal fit)"""
    return (px - 13.7) / 0.9936 / W


def vy(py):
    return 1 - py / H


# pixel boxes (left, top, right, bottom), axis ranges and tick steps for each panel
panels = [
    dict(d=(C0_NS, C0_FC, C0_P, C0_PFC), lab=C0_LAB, box=(114, 27, 506, 295), xr=(-0.477, 0.798), yr=(-0.897, 19.14), xd=0.25, xf=".2f", yd=5, yf="d", t=(133, 20)),
    dict(d=(C2_NS, C2_FC, C2_P, C2_PFC), lab=C2_LAB, box=(578, 36, 968, 303), xr=(-0.427, 0.876), yr=(-0.95, 19.05), xd=0.5, xf=".1f", yd=5, yf="d", t=(598, 39)),
    dict(d=(C3_NS, C3_FC, C3_P, C3_PFC), lab=C3_LAB, box=(1039, 38, 1422, 299), xr=(-0.962, 0.529), yr=(-0.9, 18.1), xd=0.5, xf=".1f", yd=5, yf="d", t=(1062, 38)),
    dict(d=(C4_NS, C4_FC, C4_P, C4_PFC), lab=C4_LAB, box=(1514, 25, 1913, 297), xr=(-1.066, 0.53), yr=(-0.8, 16.77), xd=0.5, xf=".1f", yd=5, yf="d", t=(1528, 31)),
    dict(d=(C5_NS, C5_FC, C5_P, C5_PFC), lab=C5_LAB, box=(109, 440, 517, 718), xr=(-0.799, 0.544), yr=(-0.8, 17.35), xd=0.25, xf=".2f", yd=5, yf="d", t=(133, 448)),
    dict(d=(C6_NS, C6_FC, C6_P, C6_PFC), lab=C6_LAB, box=(579, 454, 985, 731), xr=(-0.928, 0.488), yr=(-0.87, 18.13), xd=0.5, xf=".1f", yd=5, yf="d", t=(590, 455)),
    dict(d=(C7_NS, C7_FC, C7_P, C7_PFC), lab=C7_LAB, box=(1041, 448, 1451, 728), xr=(-0.753, 0.537), yr=(-0.79, 17.1), xd=0.25, xf=".2f", yd=5, yf="d", t=(1059, 458)),
    dict(d=(C8_NS, C8_FC, C8_P, C8_PFC), lab=C8_LAB, box=(1515, 441, 1940, 729), xr=(-0.798, 0.593), yr=(-0.58, 12.22), xd=0.25, xf=".2f", yd=3, yf="d", t=(1528, 452)),
    dict(d=(C9_NS, C9_FC, C9_P, C9_PFC), lab=C9_LAB, box=(546, 842, 989, 1143), xr=(-1.172, 0.757), yr=(-0.74, 16.04), xd=0.5, xf=".1f", yd=5, yf="d", t=(573, 864)),
    dict(d=(C10_NS, C10_FC, C10_P, C10_PFC), lab=C10_LAB, box=(1187, 864, 1587, 1143), xr=(-1.458, 1.438), yr=(-0.6, 12.87), xd=0.5, xf=".1f", yd=2.5, yf=".1f", t=(1207, 872)),
]

fig = go.Figure()
layout = dict(
    width=W, height=H, margin=dict(l=0, r=0, t=0, b=0),
    paper_bgcolor="white", plot_bgcolor="white", showlegend=False,
    font=dict(family="Liberation Sans, Arial, sans-serif"),
)
shapes, annotations = [], []

axis_common = dict(
    showline=True, linecolor="#333333", linewidth=1.3, mirror=False,
    ticks="outside", ticklen=3, tickwidth=1, tickcolor="#333333",
    tickfont=dict(size=12, color="#555555", family="Liberation Sans, Arial"),
    showgrid=True, gridcolor="#EBEBEB", gridwidth=1.2, zeroline=False, tick0=0,
)

for i, p in enumerate(panels, start=1):
    sfx = "" if i == 1 else str(i)
    L, T, R, B = p["box"]
    xa = dict(axis_common, domain=[hx(L), hx(R)], range=list(p["xr"]), dtick=p["xd"],
              tickformat=p["xf"], anchor="y" + sfx,
              minor=dict(dtick=p["xd"] / 2, showgrid=True, gridcolor="#F2F2F2", gridwidth=0.8))
    ya = dict(axis_common, domain=[vy(B), vy(T)], range=list(p["yr"]), dtick=p["yd"],
              tickformat=p["yf"], anchor="x" + sfx,
              minor=dict(dtick=p["yd"] / 2, showgrid=True, gridcolor="#F2F2F2", gridwidth=0.8))
    layout["xaxis" + sfx] = xa
    layout["yaxis" + sfx] = ya

    for pts, col in zip(p["d"], (COL_NS, COL_FC, COL_P, COL_PFC)):
        if not pts:
            continue
        fig.add_trace(go.Scatter(
            x=[a for a, b in pts], y=[b for a, b in pts], mode="markers",
            marker=dict(color=col, size=5, line=dict(width=0)),
            xaxis="x" + sfx, yaxis="y" + sfx, hoverinfo="skip", showlegend=False))

    # cut-off lines
    for xv in (-FC_CUT, FC_CUT):
        shapes.append(dict(type="line", xref="x" + sfx, yref="y" + sfx + " domain",
                           x0=xv, x1=xv, y0=0, y1=1,
                           line=dict(color="#555555", width=1, dash="4px,3px")))
    shapes.append(dict(type="line", xref="x" + sfx + " domain", yref="y" + sfx,
                       x0=0, x1=1, y0=P_CUT, y1=P_CUT,
                       line=dict(color="#555555", width=1, dash="4px,3px")))

    # gene labels
    for name, lx, ly in p["lab"]:
        annotations.append(dict(text="<b>%s</b>" % name, x=lx, y=ly, xref="x" + sfx, yref="y" + sfx,
                                showarrow=False, font=dict(size=7, color="black",
                                family="Liberation Sans, Arial")))

    # panel title
    tx, ty = p["t"]
    annotations.append(dict(text="<b>%s</b>" % CLUSTER_NAMES[i - 1], x=hx(tx), y=vy(ty),
                            xref="paper", yref="paper", xanchor="left", yanchor="middle",
                            showarrow=False,
                            font=dict(size=26, color="black", family="Liberation Serif, Times New Roman, serif")))

# figure letter
annotations.append(dict(text="<b>C</b>", x=hx(32), y=vy(19), xref="paper", yref="paper",
                        showarrow=False, xanchor="center", yanchor="middle",
                        font=dict(size=29, color="black", family="Liberation Serif, Times New Roman, serif")))

# shared axis titles
annotations.append(dict(text="\u2212Log<sub>10</sub> <i>P</i>", x=hx(38), y=vy(366),
                        xref="paper", yref="paper", showarrow=False, textangle=-90,
                        xanchor="center", yanchor="middle",
                        font=dict(size=44, color="black", family="Liberation Sans, Arial")))
annotations.append(dict(text="Log<sub>2</sub> fold change", x=hx(1094), y=vy(1204),
                        xref="paper", yref="paper", showarrow=False,
                        xanchor="center", yanchor="middle",
                        font=dict(size=37, color="black", family="Liberation Sans, Arial")))

# manual legend
for k, (lbl, col) in enumerate(zip(LEGEND_LABELS, (COL_NS, COL_P, COL_PFC))):
    cy = 938 + 49 * k
    shapes.append(dict(type="circle", xref="paper", yref="paper",
                       x0=hx(1733 - 16.5), x1=hx(1733 + 16.5),
                       y0=vy(cy + 16.5), y1=vy(cy - 16.5),
                       fillcolor=col, line=dict(width=0)))
    annotations.append(dict(text=lbl, x=hx(1799), y=vy(cy), xref="paper", yref="paper",
                            showarrow=False, xanchor="left", yanchor="middle",
                            font=dict(size=20.5, color="black", family="Liberation Sans, Arial")))

layout["shapes"] = shapes
layout["annotations"] = annotations
fig.update_layout(**layout)
fig.write_html("out.html")
